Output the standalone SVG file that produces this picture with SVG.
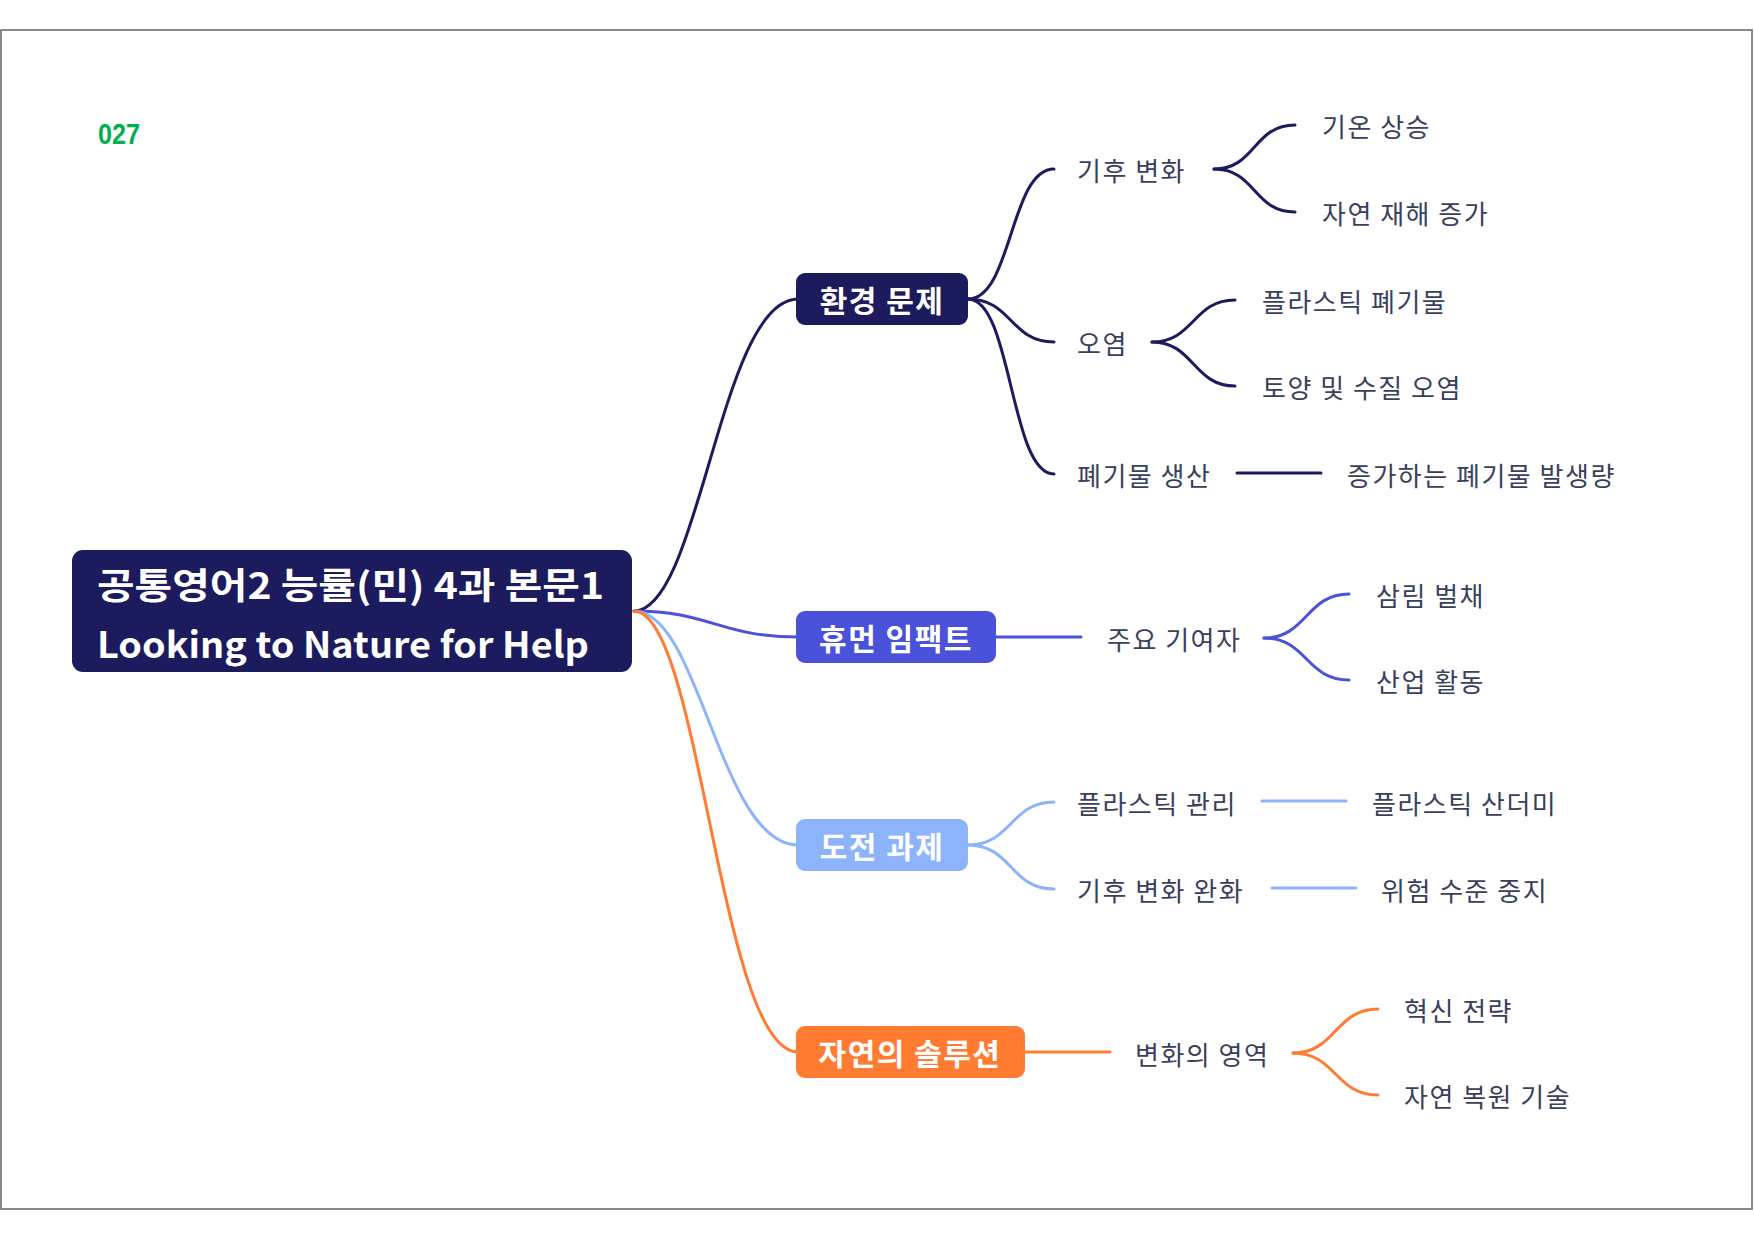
<svg xmlns="http://www.w3.org/2000/svg" width="1754" height="1240" viewBox="0 0 1754 1240">
<style>
.frame{fill:#ffffff;stroke:#8a8a8a;stroke-width:2}
.lbl{font-family:"Noto Sans CJK KR","Noto Sans",sans-serif;font-size:26px;letter-spacing:1.5px;fill:#3a3f5e;dominant-baseline:central}
.main{font-family:"Noto Sans CJK KR","Noto Sans",sans-serif;font-size:30px;letter-spacing:1.5px;font-weight:700;fill:#ffffff;text-anchor:middle;dominant-baseline:central}
.root{font-family:"Noto Sans CJK KR","Noto Sans",sans-serif;font-size:36px;font-weight:700;fill:#ffffff;dominant-baseline:central}
.c{fill:none;stroke-width:3;stroke-linecap:round}
.navy{stroke:#1b1b5e}
.violet{stroke:#4a52d9}
.sky{stroke:#8db4fa}
.orange{stroke:#ff7c32}
</style>
<rect x="1" y="30" width="1751" height="1179" class="frame"/>
<text x="98" y="144" font-family="Liberation Sans, Arial, sans-serif" font-size="29" font-weight="700" fill="#00b050" textLength="42" lengthAdjust="spacingAndGlyphs">027</text>

<g id="connectors">
  <path class="c navy" d="M634 611 C 700 611, 720 299, 798 299"/>
  <path class="c violet" d="M634 611 C 710 611, 720 637, 798 637"/>
  <path class="c sky" d="M634 611 C 700 611, 720 845, 798 845"/>
  <path class="c orange" d="M634 611 C 700 611, 720 1052, 798 1052"/>
  <path class="c navy" d="M968 299 C 1012 299, 1010 169, 1054 169"/>
  <path class="c navy" d="M968 299 C 1012 299, 1010 342, 1054 342"/>
  <path class="c navy" d="M968 299 C 1012 299, 1010 474, 1054 474"/>
  <path class="c navy" d="M1214 169 C 1256 169, 1253 125, 1295 125"/>
  <path class="c navy" d="M1214 169 C 1256 169, 1253 212, 1295 212"/>
  <path class="c navy" d="M1152 342 C 1194 342, 1193 300, 1235 300"/>
  <path class="c navy" d="M1152 342 C 1194 342, 1193 386, 1235 386"/>
  <path class="c navy" d="M1237 473 L 1321 473"/>
  <path class="c violet" d="M996 637 L 1081 637"/>
  <path class="c violet" d="M1264 638 C 1307 638, 1306 594, 1349 594"/>
  <path class="c violet" d="M1264 638 C 1307 638, 1306 680, 1349 680"/>
  <path class="c sky" d="M968 845 C 1012 845, 1010 802, 1054 802"/>
  <path class="c sky" d="M968 845 C 1012 845, 1010 889, 1054 889"/>
  <path class="c sky" d="M1262 801 L 1346 801"/>
  <path class="c sky" d="M1272 888 L 1356 888"/>
  <path class="c orange" d="M1025 1052 L 1110 1052"/>
  <path class="c orange" d="M1293 1053 C 1336 1053, 1335 1009, 1378 1009"/>
  <path class="c orange" d="M1293 1053 C 1336 1053, 1335 1095, 1378 1095"/>
</g>

<g id="root">
  <rect x="72" y="550" width="560" height="122" rx="11" fill="#1b1b5e"/>
  <text class="root" x="97" y="583" textLength="507" lengthAdjust="spacingAndGlyphs">공통영어2 능률(민) 4과 본문1</text>
  <text class="root" x="97" y="642" textLength="492" lengthAdjust="spacingAndGlyphs">Looking to Nature for Help</text>
</g>

<g id="n-env">
  <rect x="796" y="273" width="172" height="52" rx="9" fill="#1b1b5e"/>
  <text class="main" x="882" y="299">환경 문제</text>
</g>
<g id="n-human">
  <rect x="796" y="611" width="200" height="52" rx="9" fill="#4a52d9"/>
  <text class="main" x="896" y="637">휴먼 임팩트</text>
</g>
<g id="n-challenge">
  <rect x="796" y="819" width="172" height="52" rx="9" fill="#8db4fa"/>
  <text class="main" x="882" y="845">도전 과제</text>
</g>
<g id="n-nature">
  <rect x="796" y="1026" width="229" height="52" rx="9" fill="#ff7c32"/>
  <text class="main" x="910" y="1052">자연의 솔루션</text>
</g>

<g id="n-climate"><text class="lbl" x="1077" y="169">기후 변화</text></g>
<g id="n-temp"><text class="lbl" x="1322" y="125">기온 상승</text></g>
<g id="n-disaster"><text class="lbl" x="1322" y="212">자연 재해 증가</text></g>
<g id="n-pollution"><text class="lbl" x="1077" y="342">오염</text></g>
<g id="n-plasticwaste"><text class="lbl" x="1262" y="300">플라스틱 폐기물</text></g>
<g id="n-soil"><text class="lbl" x="1262" y="386">토양 및 수질 오염</text></g>
<g id="n-wasteprod"><text class="lbl" x="1077" y="474">폐기물 생산</text></g>
<g id="n-wasteinc"><text class="lbl" x="1347" y="474">증가하는 폐기물 발생량</text></g>

<g id="n-contrib"><text class="lbl" x="1107" y="638">주요 기여자</text></g>
<g id="n-deforest"><text class="lbl" x="1376" y="594">삼림 벌채</text></g>
<g id="n-industry"><text class="lbl" x="1376" y="680">산업 활동</text></g>

<g id="n-plasticmgmt"><text class="lbl" x="1077" y="802">플라스틱 관리</text></g>
<g id="n-plasticpile"><text class="lbl" x="1372" y="802">플라스틱 산더미</text></g>
<g id="n-mitigation"><text class="lbl" x="1077" y="889">기후 변화 완화</text></g>
<g id="n-stop"><text class="lbl" x="1381" y="889">위험 수준 중지</text></g>

<g id="n-area"><text class="lbl" x="1135" y="1053">변화의 영역</text></g>
<g id="n-innov"><text class="lbl" x="1404" y="1009">혁신 전략</text></g>
<g id="n-restore"><text class="lbl" x="1404" y="1095">자연 복원 기술</text></g>
</svg>
